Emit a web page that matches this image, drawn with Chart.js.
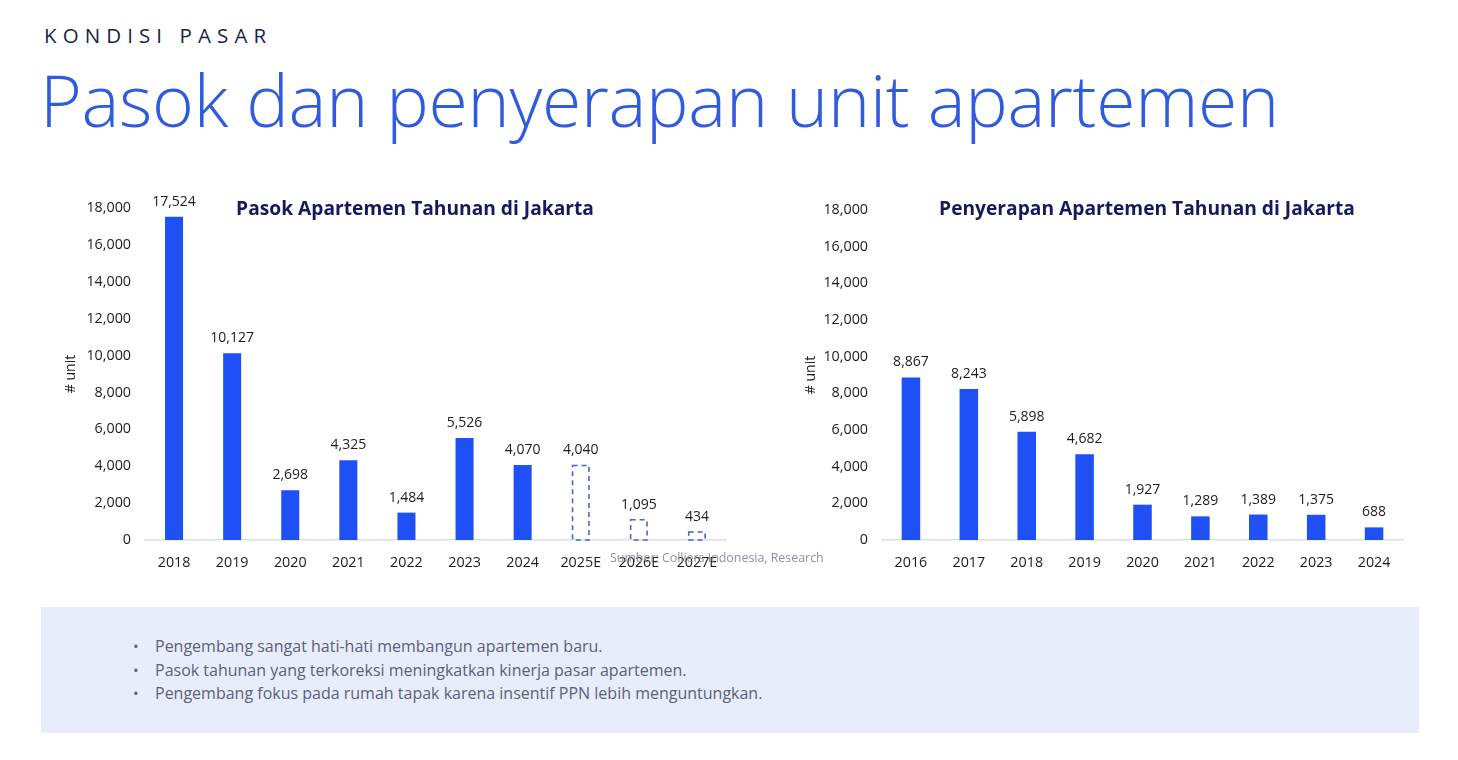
<!DOCTYPE html>
<html>
<head>
<meta charset="utf-8">
<script src="https://cdn.jsdelivr.net/npm/chart.js@4.4.1/dist/chart.umd.min.js"></script>
<style>
  html, body { margin:0; padding:0; background:#fff; }
  body { width:1458px; height:760px; position:relative; overflow:hidden; font-family:"Open Sans", sans-serif; }
  #kicker { position:absolute; left:44px; top:21px; font-size:20.5px; letter-spacing:6.1px; color:#1a1f4a; font-weight:400; }
  #title { position:absolute; left:40px; top:51px; font-size:71.5px; font-weight:300; color:#2f5bdd; letter-spacing:-0.3px; white-space:nowrap; }
  .cw { position:absolute; }
  #c1w { left:50px; top:180px; width:700px; height:400px; }
  #c2w { left:790px; top:180px; width:630px; height:400px; }
  #source { position:absolute; left:610px; top:549px; font-size:12.4px; color:#8a90a6; white-space:nowrap; }
  #box { position:absolute; left:41px; top:607px; width:1378px; height:126px; background:#e8edfc; }
  #box ul { margin:0; padding:0; list-style:none; position:absolute; left:92px; top:28px; }
  #box li { font-size:16px; color:#5b6178; line-height:23.5px; position:relative; padding-left:22px; white-space:nowrap; }
  #box li::before { content:"•"; position:absolute; left:0; top:0; color:#5b6178; font-size:15px; }
</style>
</head>
<body>
<div id="kicker">KONDISI PASAR</div>
<div id="title">Pasok dan penyerapan unit apartemen</div>
<div class="cw" id="c1w"><canvas id="c1"></canvas></div>
<div class="cw" id="c2w"><canvas id="c2"></canvas></div>
<div id="source">Sumber: Colliers Indonesia, Research</div>
<div id="box">
  <ul>
    <li>Pengembang sangat hati-hati membangun apartemen baru.</li>
    <li>Pasok tahunan yang terkoreksi meningkatkan kinerja pasar apartemen.</li>
    <li>Pengembang fokus pada rumah tapak karena insentif PPN lebih menguntungkan.</li>
  </ul>
</div>
<script>
// ---- data ----
const supplyYears = ["2018","2019","2020","2021","2022","2023","2024","2025E","2026E","2027E"];
const supplyValues = [17524, 10127, 2698, 4325, 1484, 5526, 4070, 4040, 1095, 434];
const supplyEstimate = [false,false,false,false,false,false,false,true,true,true];
const absorbYears = ["2016","2017","2018","2019","2020","2021","2022","2023","2024"];
const absorbValues = [8867, 8243, 5898, 4682, 1927, 1289, 1389, 1375, 688];
const yMax = 18000;
const yStep = 2000;
const supplyTitle = "Pasok Apartemen Tahunan di Jakarta";
const absorbTitle = "Penyerapan Apartemen Tahunan di Jakarta";
const yAxisTitle = "# unit";

const BAR = "#1e50f5";
const DASH = "#4a66c8";
const FONT = "'Open Sans', sans-serif";

const valueLabels = {
  id: 'valueLabels',
  afterDatasetsDraw(chart, args, opts) {
    const ctx = chart.ctx;
    const meta = chart.getDatasetMeta(0);
    const ds = chart.data.datasets[0];
    ctx.save();
    meta.data.forEach((el, i) => {
      const est = opts.estimate && opts.estimate[i];
      if (est) {
        const w = el.width;
        ctx.setLineDash([5, 4]);
        ctx.lineWidth = 1.6;
        ctx.strokeStyle = DASH;
        ctx.strokeRect(el.x - w/2 + 0.8, el.y, w - 1.6, el.base - el.y);
        ctx.setLineDash([]);
      }
      ctx.fillStyle = "#1c1c1c";
      ctx.font = "14px " + FONT;
      ctx.textAlign = "center";
      ctx.textBaseline = "middle";
      ctx.fillText(ds.data[i].toLocaleString('en-US'), el.x, el.y - 15);
    });
    ctx.restore();
  }
};

const chartTitle = {
  id: 'chartTitle',
  afterDraw(chart, args, opts) {
    const ctx = chart.ctx;
    ctx.save();
    ctx.fillStyle = "#141a5c";
    ctx.font = "bold 19.2px " + FONT;
    ctx.textAlign = "center";
    ctx.textBaseline = "middle";
    ctx.fillText(opts.text, opts.x, opts.y);
    ctx.restore();
  }
};

function makeChart(id, labels, values, estimate, yWidth, padRight, padTop, barPct, title, titleX) {
  return new Chart(document.getElementById(id), {
    type: 'bar',
    data: {
      labels: labels,
      datasets: [{
        data: values,
        backgroundColor: values.map((v, i) => estimate && estimate[i] ? 'rgba(0,0,0,0)' : BAR),
        borderWidth: 0,
        barPercentage: barPct,
        categoryPercentage: 1.0
      }]
    },
    options: {
      responsive: true,
      maintainAspectRatio: false,
      animation: false,
      devicePixelRatio: 1,
      layout: { padding: { top: padTop, right: padRight, left: 0, bottom: 0 } },
      plugins: {
        legend: { display: false },
        tooltip: { enabled: false },
        valueLabels: { estimate: estimate },
        chartTitle: { text: title, x: titleX, y: 30 }
      },
      scales: {
        x: {
          grid: { display: false, drawTicks: false },
          border: { display: true, color: '#dcdfe6', width: 1.5 },
          ticks: { color: '#1c1c1c', font: { family: FONT, size: 14.3 }, padding: 14, maxRotation: 0, autoSkip: false },
          afterFit(s) { s.height = 40; }
        },
        y: {
          min: 0, max: yMax,
          grid: { display: false, drawTicks: false },
          border: { display: false },
          ticks: { stepSize: yStep, color: '#1c1c1c', font: { family: FONT, size: 14.3 }, padding: 14,
                   callback: v => v.toLocaleString('en-US') },
          title: { display: true, text: yAxisTitle, color: '#1c1c1c', font: { family: FONT, size: 14 }, padding: { top: 13, bottom: 0 } },
          afterFit(s) { s.width = yWidth; }
        }
      }
    },
    plugins: [valueLabels, chartTitle]
  });
}

makeChart('c1', supplyYears, supplyValues, supplyEstimate, 95, 24, 28, 0.31, supplyTitle, 365);
makeChart('c2', absorbYears, absorbValues, null, 92, 17, 30, 0.32, absorbTitle, 357);
</script>
</body>
</html>
